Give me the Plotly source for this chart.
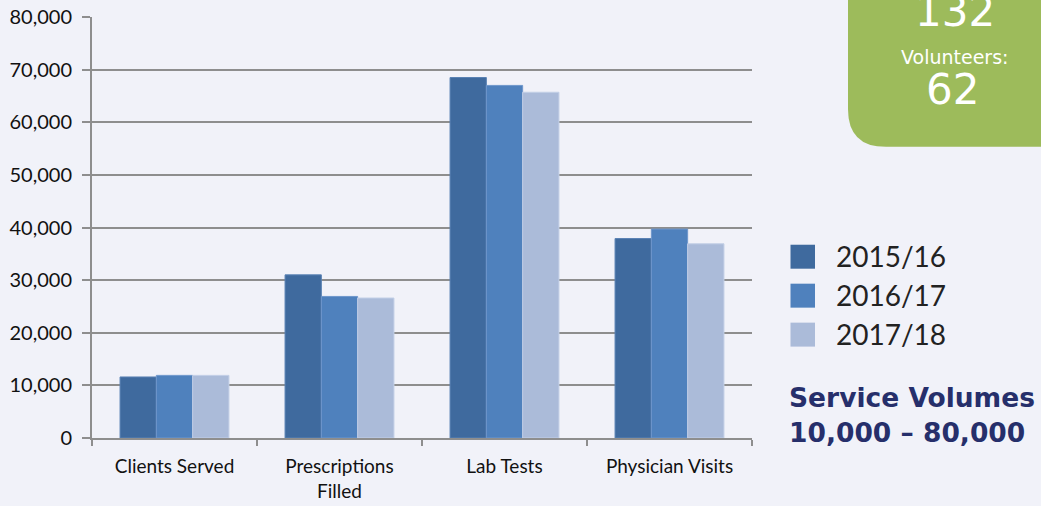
import plotly.graph_objects as go

# Service volume data
categories = ["Clients Served", "Prescriptions<br>Filled", "Lab Tests", "Physician Visits"]
years = ["2015/16", "2016/17", "2017/18"]
volumes_2015 = [11600, 31000, 68500, 37900]
volumes_2016 = [11900, 26900, 67000, 39700]
volumes_2017 = [11900, 26600, 65700, 36900]
series_values = [volumes_2015, volumes_2016, volumes_2017]

bar_colors = ["#3f6a9e", "#4f81bd", "#abbbd9"]
edge_colors = ["#5a82b4", "#6f97cc", "#c2cfe6"]

W, H = 1041, 506
L, R, T, B = 92, 752, 17, 438.5  # plot area in pixels


def px(x):
    return (x - L) / (R - L)


def py(y):
    return (B - y) / (B - T)


fig = go.Figure()
for name, vals, c, ec in zip(years, series_values, bar_colors, edge_colors):
    fig.add_trace(go.Bar(
        x=categories, y=vals, name=name,
        marker=dict(color=c, line=dict(color=ec, width=1)),
        showlegend=False,
    ))

shapes = []
annotations = []

# green volunteers panel with rounded lower-left corner
x0, x1 = px(848), px(1050)
y0, y1 = py(147), py(-10)
rx, ry = 38 / (R - L), 38 / (B - T)
path = (f"M {x0},{y1} L {x1},{y1} L {x1},{y0} L {x0 + rx},{y0} "
        f"Q {x0},{y0} {x0},{y0 + ry} Z")
shapes.append(dict(type="path", xref="paper", yref="paper", path=path,
                   fillcolor="#9dbb5b", line=dict(width=0), layer="below"))

panel_font = "DejaVu Sans"
annotations += [
    dict(text="132", x=px(955), y=py(11), xref="paper", yref="paper",
         showarrow=False, xanchor="center", yanchor="middle",
         font=dict(family=panel_font, size=42, color="white")),
    dict(text="Volunteers:", x=px(954), y=py(57), xref="paper", yref="paper",
         showarrow=False, xanchor="center", yanchor="middle",
         font=dict(family=panel_font, size=19, color="white")),
    dict(text="62", x=px(953), y=py(90), xref="paper", yref="paper",
         showarrow=False, xanchor="center", yanchor="middle",
         font=dict(family=panel_font, size=42, color="white")),
]

# legend: squares and year labels
for i, (name, c) in enumerate(zip(years, bar_colors)):
    top = 245 + 39 * i
    shapes.append(dict(type="rect", xref="paper", yref="paper",
                       x0=px(790.5), x1=px(815), y0=py(top + 24), y1=py(top),
                       fillcolor=c, line=dict(width=0)))
    annotations.append(dict(text=name, x=px(834), y=py(top + 11),
                            xref="paper", yref="paper", showarrow=False,
                            xanchor="left", yanchor="middle",
                            font=dict(family="Lato", size=28, color="#222222")))

annotations += [
    dict(text="<b>Service Volumes</b>", x=px(787), y=py(398),
         xref="paper", yref="paper", showarrow=False,
         xanchor="left", yanchor="middle",
         font=dict(family="DejaVu Sans", size=26.5, color="#262f6b")),
    dict(text="<b>10,000 – 80,000</b>", x=px(787), y=py(433),
         xref="paper", yref="paper", showarrow=False,
         xanchor="left", yanchor="middle",
         font=dict(family="DejaVu Sans", size=26.5, color="#262f6b")),
]

fig.update_layout(
    width=W, height=H,
    margin=dict(l=L, r=W - R, t=T, b=H - B, pad=0, autoexpand=False),
    paper_bgcolor="#f1f2f9",
    plot_bgcolor="rgba(0,0,0,0)",
    barmode="group",
    bargap=0.34,
    bargroupgap=0,
    shapes=shapes,
    annotations=annotations,
    font=dict(family="Lato", size=19, color="#111111"),
)

fig.update_yaxes(
    range=[0, 80000], dtick=10000, tickformat=",",
    showgrid=True, gridcolor="#8e8e8e", gridwidth=2,
    showline=True, linecolor="#8e8e8e", linewidth=2,
    ticks="outside", ticklen=8, tickcolor="#8e8e8e", tickwidth=2,
    tickfont=dict(family="Lato", size=20, color="#111111"),
    ticklabelstandoff=6,
    zeroline=False, automargin=False,
)
fig.update_xaxes(
    showline=True, linecolor="#8e8e8e", linewidth=2,
    ticks="outside", tickson="boundaries", ticklen=6,
    tickcolor="#8e8e8e", tickwidth=2,
    tickfont=dict(family="Lato", size=19, color="#111111"),
    ticklabelstandoff=10,
    showgrid=False, automargin=False,
)

fig.write_html("out.html")
